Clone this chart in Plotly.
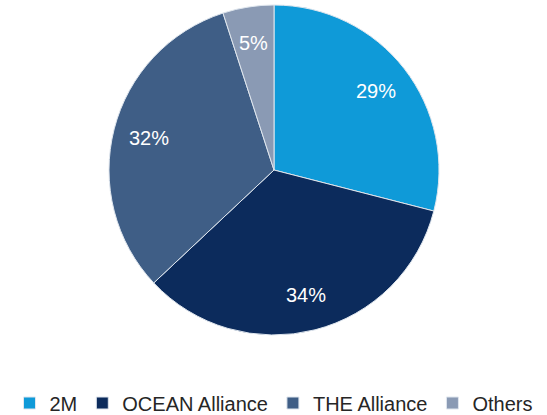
import math
import plotly.graph_objects as go

labels = ["2M", "OCEAN Alliance", "THE Alliance", "Others"]
values = [29, 34, 32, 5]
text_labels = ["29%", "34%", "32%", "5%"]
colors = ["#0f9ad8", "#0c2b5c", "#3f5e86", "#8a9ab4"]

W, H = 547, 415
cx, cy, r = 274, 170, 165
label_k = 0.78

fig = go.Figure(go.Pie(
    labels=labels, values=values,
    textinfo="none", sort=False, direction="clockwise", rotation=0,
    marker=dict(colors=colors, line=dict(color="#dfe6ee", width=1)),
    domain=dict(x=[(cx - r) / W, (cx + r) / W], y=[1 - (cy + r) / H, 1 - (cy - r) / H]),
    hoverinfo="label+percent",
))

# percentage labels placed at mid-angle of each slice, computed from the data
total = sum(values)
cum = 0
for v, t in zip(values, text_labels):
    mid = (cum + v / 2) / total * 2 * math.pi
    cum += v
    px = cx + r * label_k * math.sin(mid)
    py = cy - r * label_k * math.cos(mid)
    fig.add_annotation(x=px / W, y=1 - py / H, xref="paper", yref="paper",
                       xanchor="center", yanchor="middle",
                       text=t, showarrow=False,
                       font=dict(color="white", size=20, family="Liberation Sans, Arial"))

fig.update_layout(
    width=W, height=H, margin=dict(l=0, r=0, t=0, b=0, autoexpand=False),
    paper_bgcolor="white", plot_bgcolor="white",
    font=dict(family="Liberation Sans, Arial", size=20, color="#262626"),
    legend=dict(orientation="h", x=0.5, xanchor="center", y=1 - 403 / H, yanchor="middle",
                font=dict(size=20, color="#262626"), itemwidth=30, traceorder="normal"),
)
fig.write_html("out.html")
